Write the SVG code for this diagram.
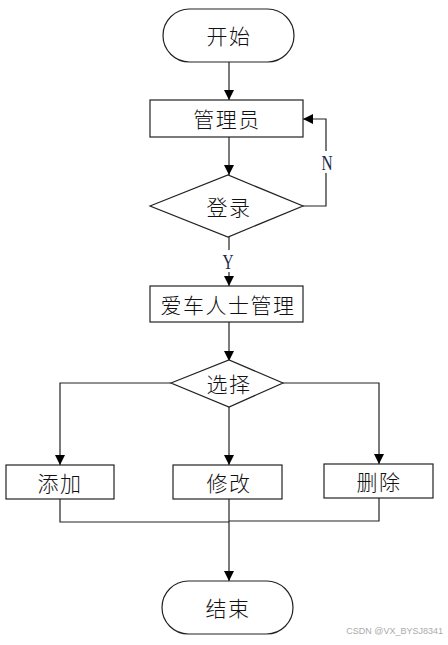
<svg xmlns="http://www.w3.org/2000/svg" width="448" height="645" viewBox="0 0 448 645">
<defs>
<style>
.s{fill:#fff;stroke:#222;stroke-width:1.2}
.t{font-family:"Noto Sans CJK SC","Noto Sans",sans-serif;font-size:21px;font-weight:300;fill:#111;text-anchor:middle;dominant-baseline:central;letter-spacing:1.5px}
.l{fill:none;stroke:#222;stroke-width:1.2}
.lb{font-family:"Liberation Serif",serif;font-size:22px;fill:#1a2a44;text-anchor:middle;dominant-baseline:central}
</style>
<marker id="a" viewBox="0 0 10 10" refX="10" refY="5" markerWidth="10" markerHeight="10" markerUnits="userSpaceOnUse" orient="auto">
<path d="M0,0L10,5L0,10Z" fill="#000"/>
</marker>
</defs>
<rect width="448" height="645" fill="#fff"/>
<g id="connectors">
<path class="l" d="M229,62V100" marker-end="url(#a)"/>
<path class="l" d="M229,137V175" marker-end="url(#a)"/>
<path class="l" d="M303,206H326V119H303" marker-end="url(#a)"/>
<path class="l" d="M229,237V286" marker-end="url(#a)"/>
<path class="l" d="M229,322V361" marker-end="url(#a)"/>
<path class="l" d="M171,383H60V465" marker-end="url(#a)"/>
<path class="l" d="M283,383H379V464" marker-end="url(#a)"/>
<path class="l" d="M229,407V465" marker-end="url(#a)"/>
<path class="l" d="M60,499V522H229"/>
<path class="l" d="M379,498V521H229"/>
<path class="l" d="M229,499V581" marker-end="url(#a)"/>
<rect x="319" y="151" width="14" height="22" fill="#fff"/>
<text class="lb" transform="translate(327,162) scale(0.7,1)">N</text>
<rect x="221" y="250" width="16" height="22" fill="#fff"/>
<text class="lb" transform="translate(228,261) scale(0.7,1)">Y</text>
</g>
<g id="start"><rect class="s" x="163" y="9" width="131" height="53" rx="26.5"/><text class="t" x="229" y="35">开始</text></g>
<g id="admin"><rect class="s" x="150" y="100" width="153" height="37"/><text class="t" x="227" y="118">管理员</text></g>
<g id="login"><path class="s" d="M150,206L228,175L303,206L228,237Z"/><text class="t" x="229" y="206">登录</text></g>
<g id="manage"><rect class="s" x="150" y="286" width="153" height="36"/><text class="t" x="228" y="304">爱车人士管理</text></g>
<g id="choose"><path class="s" d="M171,383L229,360L283,383L229,407Z"/><text class="t" x="229" y="383">选择</text></g>
<g id="add"><rect class="s" x="6" y="465" width="108" height="34"/><text class="t" x="60" y="482">添加</text></g>
<g id="edit"><rect class="s" x="173" y="465" width="109" height="34"/><text class="t" x="229" y="482">修改</text></g>
<g id="del"><rect class="s" x="324" y="464" width="109" height="34"/><text class="t" x="379" y="481">删除</text></g>
<g id="end"><rect class="s" x="162" y="581" width="131" height="53" rx="26.5"/><text class="t" x="228" y="607">结束</text></g>
<text x="443" y="634" font-family="Liberation Sans,sans-serif" font-size="9px" fill="#aaa" text-anchor="end">CSDN @VX_BYSJ8341</text>
</svg>
